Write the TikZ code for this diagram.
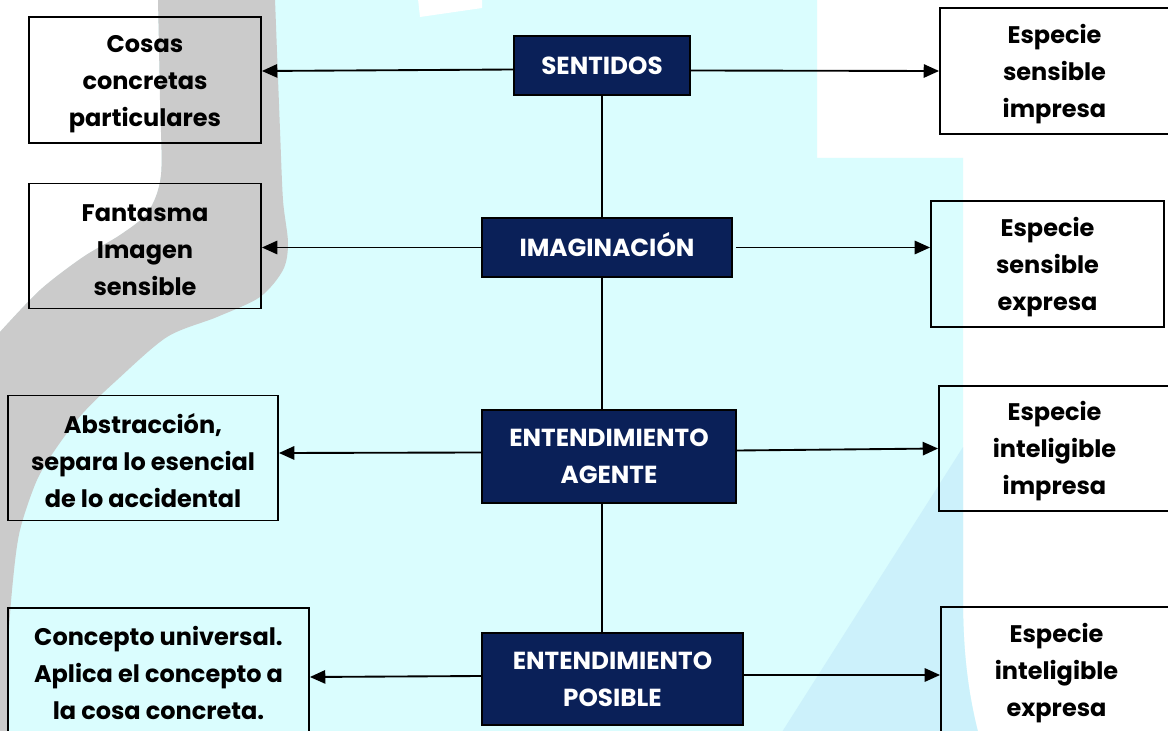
\documentclass[tikz,border=0pt]{standalone}
\usepackage{fontspec}
\setmainfont{Poppins}
\usetikzlibrary{calc}
\usetikzlibrary{arrows.meta}

\definecolor{cyanbg}{HTML}{DAFDFE}
\definecolor{palebg}{HTML}{CCF1FB}
\definecolor{greyband}{HTML}{CBCBCB}
\definecolor{navy}{HTML}{0A2058}

\newcommand\topstrut{\rule{0pt}{19pt}}

\begin{document}
\begin{tikzpicture}[x=0.75pt,y=-0.75pt,
    titlebox/.style={draw=black,line width=1.4pt,fill=navy,text=white,align=center,inner sep=0pt,
        font=\bfseries\fontsize{18.5}{27.75}\selectfont},
    notebox/.style={draw=black,line width=1.4pt,align=center,inner sep=0pt,
        font=\bfseries\fontsize{18}{27.75}\selectfont},
    arr/.style={line width=1.4pt,-{Triangle[length=11.5pt,width=10pt]}}]
    \useasboundingbox (0,0) rectangle (1168,731);

    % Draw the background
    \fill[white] (0,0) rectangle (1168,731);
    \fill[cyanbg] (0,0) -- (817,0) -- (817,158) -- (963,158) -- (963,600)
        .. controls (963,660) and (970,700) .. (978,732) -- (0,732) -- cycle;
    \fill[palebg] (782,732) -- (963,447) -- (963,600)
        .. controls (963,660) and (970,700) .. (978,732) -- cycle;
    \fill[white] (-1,-1) -- plot[smooth] coordinates {(158,-1) (160,100) (161,175) (148,212) (120,235) (83,257) (40,290) (-1,333)} -- cycle;
    \fill[greyband] plot[smooth] coordinates {(158,-1) (160,100) (161,175) (148,212) (120,235) (83,257) (40,290) (-1,333)}
        -- (-1,732) -- plot[smooth] coordinates {(7,732) (8,647) (13,580) (20,530) (37,480) (57,447) (83,413) (117,380) (167,337) (217,317) (260,297) (283,270) (288,243) (283,200) (280,130) (275,-1)} -- cycle;
    \fill[white] (418,-1) -- (482,-1) -- (482,8) -- (420,17) -- cycle;

    % Centers of the boxes
    \coordinate (cS) at (602,65.5);
    \coordinate (cI) at (607,247.5);
    \coordinate (cEA) at (609,456.5);
    \coordinate (cEP) at (612.5,679);

    % Draw the faculties
    \node[titlebox,minimum width=132pt,minimum height=44.25pt] (S) at (cS) {SENTIDOS};
    \node[titlebox,minimum width=187.5pt,minimum height=44.25pt] (I) at (cI) {IMAGINACI\smash{Ó}N};
    \node[titlebox,minimum width=190.5pt,minimum height=69.75pt] (EA) at (cEA) {ENTENDIMIENTO\\AGENTE};
    \node[titlebox,minimum width=195.75pt,minimum height=69pt] (EP) at (cEP) {ENTENDIMIENTO\\POSIBLE};

    % Draw the objects on the left
    \node[notebox,minimum width=174pt,minimum height=94.5pt] (L1) at (145,80) {\topstrut Cosas\\concretas\\particulares};
    \node[notebox,minimum width=174pt,minimum height=93.75pt] (L2) at (145,246) {\topstrut Fantasma\\Imagen\\sensible};
    \node[notebox,minimum width=202.5pt,minimum height=93.75pt] (L3) at (143,458) {\topstrut Abstracción,\\separa lo esencial\\de lo accidental};
    \node[notebox,minimum width=225.75pt,minimum height=93pt] (L4) at (158.5,670) {\topstrut Concepto universal.\\Aplica el concepto a\\la cosa concreta.};

    % Draw the species on the right
    \node[notebox,minimum width=171.75pt,minimum height=94.5pt] (R1) at (1054.5,71) {\topstrut Especie\\sensible\\impresa};
    \node[notebox,minimum width=174.75pt,minimum height=94.5pt] (R2) at (1047.5,264) {\topstrut Especie\\sensible\\expresa};
    \node[notebox,minimum width=173.25pt,minimum height=93.75pt] (R3) at (1054.5,448.5) {\topstrut Especie\\inteligible\\impresa};
    \node[notebox,minimum width=173.25pt,minimum height=94.5pt] (R4) at (1056.5,670) {\topstrut Especie\\inteligible\\expresa};

    % Draw the vertical line
    \draw[line width=1.4pt] (S.south) -- (S.south |- I.north);
    \draw[line width=1.4pt] (S.south |- I.south) -- (S.south |- EA.north);
    \draw[line width=1.4pt] (S.south |- EA.south) -- (S.south |- EP.north);

    % Draw the arrows
    \draw[arr] ($(S.west)+(0,4)$) -- ($(L1.east)+(0,-9)$);
    \draw[arr] ($(S.east)+(0,5)$) -- (R1.west);
    \draw[arr] (I.west) -- (I.west -| L2.east);
    \draw[arr] ($(I.east)+(3,0)$) -- (I.east -| R2.west);
    \draw[arr] ($(EA.west)+(0,-4)$) -- ($(L3.east)+(0,-5)$);
    \draw[arr] ($(EA.east)+(0,-6)$) -- (R3.west);
    \draw[arr] ($(EP.west)+(0,-3)$) -- ($(L4.east)+(0,7)$);
    \draw[arr] ($(EP.east)+(0,-4)$) -- ($(R4.west)+(0,5)$);
\end{tikzpicture}
\end{document}
